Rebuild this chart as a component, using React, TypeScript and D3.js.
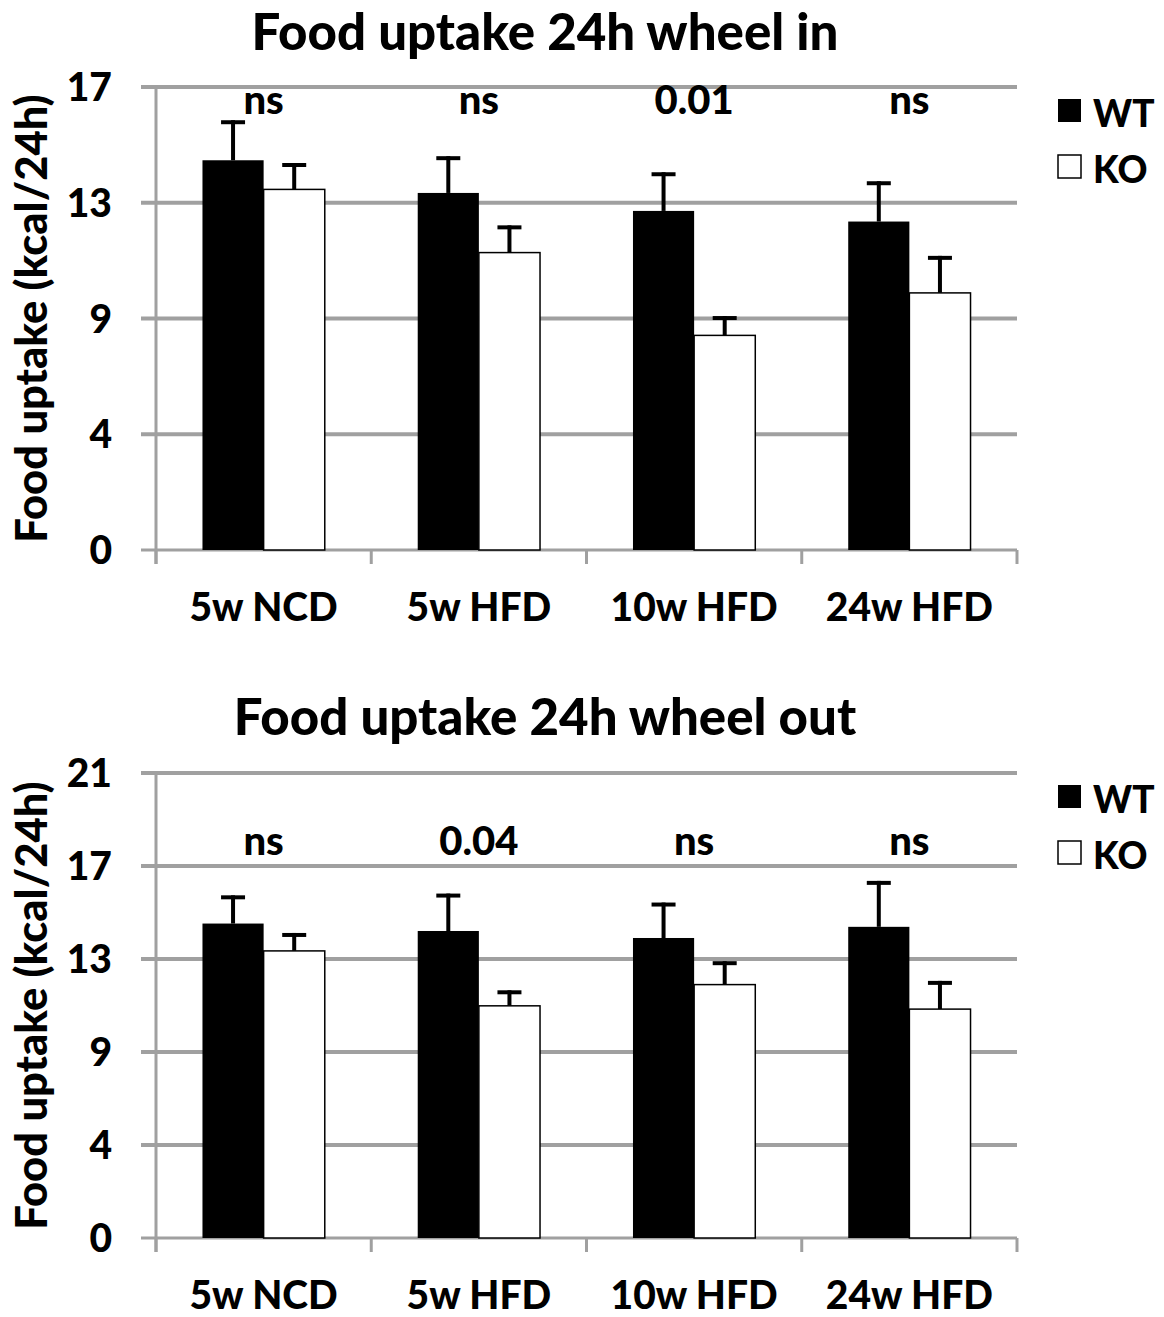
import React from 'react';
import * as d3 from 'd3';

const categories = ['5w NCD', '5w HFD', '10w HFD', '24w HFD'];
const seriesNames = ['WT', 'KO'];

// wheel in
const wtIn = [14.31, 13.11, 12.45, 12.06];
const wtInErr = [1.47, 1.35, 1.42, 1.48];
const koIn = [13.24, 10.92, 7.88, 9.44];
const koInErr = [0.97, 1.0, 0.71, 1.36];
const pIn = ['ns', 'ns', '0.01', 'ns'];

// wheel out
const wtOut = [14.37, 14.03, 13.71, 14.22];
const wtOutErr = [1.29, 1.71, 1.62, 2.1];
const koOut = [13.12, 10.61, 11.58, 10.46];
const koOutErr = [0.82, 0.71, 1.07, 1.29];
const pOut = ['ns', '0.04', 'ns', 'ns'];

const FONT = 'Lato, "Open Sans", sans-serif';
const W = 900;
const GRID = '#a0a0a0';

type Panel = {
  title: string;
  wt: number[]; wtErr: number[];
  ko: number[]; koErr: number[];
  p: string[];
  yMax: number; step: number; pAt: number;
  top: number; bottom: number; titleY: number;
};

const panels: Panel[] = [
  { title: 'Food uptake 24h wheel in', wt: wtIn, wtErr: wtInErr, ko: koIn, koErr: koInErr, p: pIn,
    yMax: 17, step: 4.25, pAt: 16, top: 87, bottom: 550, titleY: 50 },
  { title: 'Food uptake 24h wheel out', wt: wtOut, wtErr: wtOutErr, ko: koOut, koErr: koOutErr, p: pOut,
    yMax: 21.25, step: 4.25, pAt: 17.5, top: 773, bottom: 1238, titleY: 735 },
];

const left = 156;
const right = 1017;

const Chart = ({ cfg }: { cfg: Panel }) => {
  const x = d3.scaleBand().domain(categories).range([left, right]).paddingInner(0).paddingOuter(0);
  const inner = d3.scaleBand().domain(seriesNames).range([0, x.bandwidth()]).paddingInner(0).paddingOuter(0.76);
  const y = d3.scaleLinear().domain([0, cfg.yMax]).range([cfg.bottom, cfg.top]);
  const ticks = d3.range(0, cfg.yMax + 0.001, cfg.step);
  const bw = inner.bandwidth();

  const bars = categories.flatMap((c, i) => [
    { c, s: 'WT', v: cfg.wt[i], e: cfg.wtErr[i] },
    { c, s: 'KO', v: cfg.ko[i], e: cfg.koErr[i] },
  ]);

  return (
    <g>
      <text x={545} y={cfg.titleY} textAnchor="middle" fontFamily={FONT} fontWeight={W} fontSize={51}>{cfg.title}</text>
      {/* gridlines */}
      {ticks.map(t => (
        <line key={t} x1={left - 15} x2={right} y1={y(t)} y2={y(t)} stroke={GRID} strokeWidth={t === 0 ? 3 : 4} />
      ))}
      {/* axes */}
      <line x1={left} x2={left} y1={cfg.top} y2={cfg.bottom + 14} stroke={GRID} strokeWidth={3} />
      {d3.range(categories.length + 1).map(k => {
        const xx = left + k * x.step();
        return <line key={k} x1={xx} x2={xx} y1={cfg.bottom} y2={cfg.bottom + 14} stroke={GRID} strokeWidth={3} />;
      })}
      {ticks.map(t => (
        <text key={t} x={112} y={y(t)} dy="0.36em" textAnchor="end" fontFamily={FONT} fontWeight={W} fontSize={39}>{Math.round(t)}</text>
      ))}
      <text transform={`translate(47, ${(cfg.top + cfg.bottom) / 2}) rotate(-90)`} textAnchor="middle"
        fontFamily={FONT} fontWeight={W} fontSize={43.5}>Food uptake (kcal/24h)</text>
      {/* bars */}
      {bars.map(b => {
        const bx = (x(b.c) as number) + (inner(b.s) as number);
        const cx = bx + bw / 2;
        return (
          <g key={b.c + b.s}>
            <line x1={cx} x2={cx} y1={y(b.v)} y2={y(b.v + b.e)} stroke="#000" strokeWidth={4} />
            <line x1={cx - 12} x2={cx + 12} y1={y(b.v + b.e) + 2} y2={y(b.v + b.e) + 2} stroke="#000" strokeWidth={4} />
            <rect x={bx} y={y(b.v)} width={bw} height={cfg.bottom - y(b.v)}
              fill={b.s === 'WT' ? '#000' : '#fff'} stroke="#000" strokeWidth={b.s === 'WT' ? 0 : 1.5} />
          </g>
        );
      })}
      {categories.map((c, i) => (
        <text key={c} x={(x(c) as number) + x.bandwidth() / 2} y={y(cfg.pAt)} textAnchor="middle"
          fontFamily={FONT} fontWeight={W} fontSize={40}>{cfg.p[i]}</text>
      ))}
      {categories.map(c => (
        <text key={c} x={(x(c) as number) + x.bandwidth() / 2} y={cfg.bottom + 71} textAnchor="middle"
          fontFamily={FONT} fontWeight={W} fontSize={39}>{c}</text>
      ))}
      {/* legend */}
      {seriesNames.map((s, i) => (
        <g key={s} transform={`translate(1058, ${cfg.top + 12 + i * 56})`}>
          <rect x={0} y={0} width={23} height={23} fill={s === 'WT' ? '#000' : '#fff'} stroke="#000" strokeWidth={s === 'WT' ? 0 : 1.5} />
          <text x={35} y={28} fontFamily={FONT} fontWeight={W} fontSize={37}>{s}</text>
        </g>
      ))}
    </g>
  );
};

export default function App() {
  return (
    <svg width={1164} height={1317} style={{ position: 'absolute', left: 0, top: 0, background: '#fff' }}>
      <rect width={1164} height={1317} fill="#fff" />
      {panels.map(p => <Chart key={p.title} cfg={p} />)}
    </svg>
  );
}
